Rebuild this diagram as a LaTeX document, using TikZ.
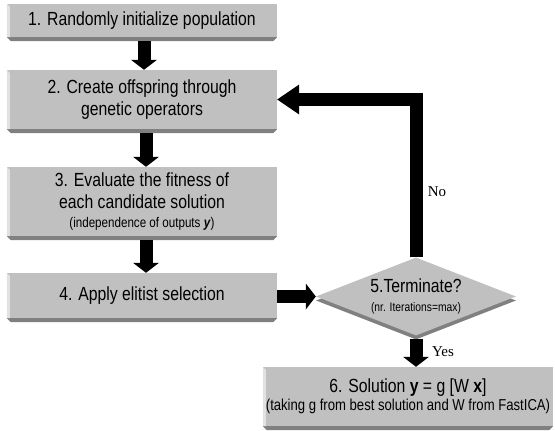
\documentclass[tikz,border=0pt]{standalone}
\usepackage{fontspec}
\setmainfont{Liberation Sans}[FakeStretch=0.83]
\newfontfamily\serifface{Liberation Serif}
\usetikzlibrary{arrows.meta,shapes.geometric,calc,shadows}
\definecolor{face}{RGB}{192,192,192}
\definecolor{bevdark}{RGB}{128,128,128}
\definecolor{bevlight}{RGB}{226,226,226}
\newcommand\mainfs{\fontsize{19}{22}\selectfont}
\newcommand\bevel[1]{%
  \fill[bevdark] (#1.south west) -- (#1.south east) -- ++(-4pt,-4pt) -- ($(#1.south west)+(4pt,-4pt)$) -- cycle;
  \fill[bevlight] (#1.north west) -- ++(3pt,-3pt) -- ($(#1.south west)+(3pt,0pt)$) -- (#1.south west) -- cycle;
}
\begin{document}
\begin{tikzpicture}[x=1pt,y=-1pt,
  box/.style={fill=face, inner sep=0pt, align=center, font=\mainfs, text=black},
  dia/.style={shape=diamond, fill=face, inner sep=0pt, shape aspect=2.56,
              minimum width=200pt, minimum height=78pt, align=center, font=\mainfs,
              general shadow={fill=bevdark, shadow yshift=-4pt}},
  barrow/.style={draw=black, line width=13pt, -{Triangle[width=26pt 0 0,length=10pt 0 0,line width=0pt 0 0]}},
  bigbarrow/.style={draw=black, line width=13pt, line join=miter, -{Triangle[width=30pt 0 0,length=22pt 0 0,line width=0pt 0 0]}},
  lbl/.style={font=\serifface\fontsize{15}{18}\selectfont, inner sep=0pt}
]
\useasboundingbox (0,0) rectangle (555,431);

\node[box, minimum width=270pt, minimum height=33pt] (b1) at (142,20.5) {1. Randomly initialize population};
\node[box, minimum width=270pt, minimum height=59pt] (b2) at (142,99.5) {2. Create offspring through\\genetic operators};
\node[box, minimum width=270pt, minimum height=69pt] (b3) at (142,201.5) {3. Evaluate the fitness of\\each candidate solution\\[-3pt]{\fontsize{14}{16}\selectfont (independence of outputs \textbf{\textit{y}})}};
\node[box, minimum width=270pt, minimum height=45pt] (b4) at (142,295.5) {4. Apply elitist selection};
\node[box, minimum width=290pt, minimum height=59pt] (b6) at (408,396.5) {6. Solution \textbf{y} = g [W \textbf{x}]\\[-4pt]{\fontsize{15.8}{18}\selectfont (taking g from best solution and W from FastICA)}};
\node[dia] (d) at (416,296.5) {5.Terminate?\\[-3pt]{\fontsize{12.4}{14}\selectfont (nr. Iterations=max)}};

\bevel{b1}
\bevel{b2}
\bevel{b3}
\bevel{b4}
\bevel{b6}

\coordinate (x1) at (144,0);
\coordinate (x2) at (146,0);
\draw[barrow, shorten <=4pt] (b1.south -| x1) -- (b2.north -| x1);
\draw[barrow, shorten <=4pt] (b2.south -| x2) -- (b3.north -| x2);
\draw[barrow, shorten <=4pt] (b3.south -| x2) -- (b4.north -| x2);
\draw[barrow] (b4.east |- d.west) -- (d.west);
\draw[bigbarrow] (d.north) -- (d.north |- b2.east) -- (b2.east);
\draw[barrow, shorten <=3pt] (d.south) -- (b6.north -| d.south);

\node[lbl] (no) at (437,192) {No};
\node[lbl] (yes) at (443,352) {Yes};
\end{tikzpicture}
\end{document}
